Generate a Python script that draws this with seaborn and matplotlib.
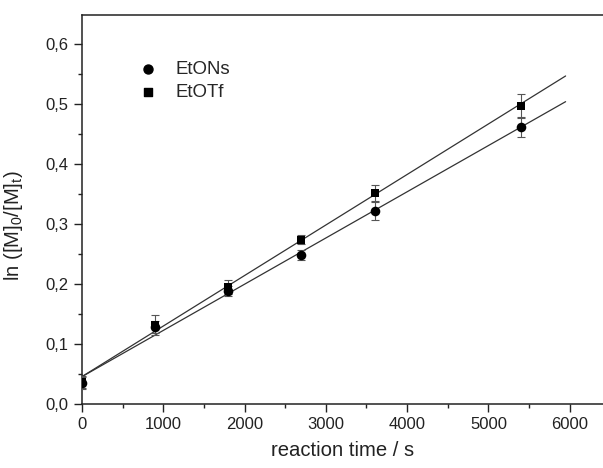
import numpy as np
import pandas as pd
import matplotlib
matplotlib.use("Agg")
import matplotlib.pyplot as plt
from matplotlib.ticker import FuncFormatter, MultipleLocator
import seaborn as sns

# Data
time_s = [0, 900, 1800, 2700, 3600, 5400]
etons = [0.035, 0.128, 0.188, 0.248, 0.322, 0.461]
etons_err = [0.010, 0.010, 0.008, 0.008, 0.015, 0.017]
etotf = [0.037, 0.132, 0.195, 0.274, 0.351, 0.497]
etotf_err = [0.010, 0.017, 0.012, 0.007, 0.013, 0.020]

df = pd.DataFrame({
    "time": time_s * 2,
    "value": etons + etotf,
    "err": etons_err + etotf_err,
    "series": ["EtONs"] * 6 + ["EtOTf"] * 6,
})

sns.set_style("ticks")
plt.rcParams["font.family"] = ["Liberation Sans", "DejaVu Sans"]
plt.rcParams["mathtext.fontset"] = "custom"
plt.rcParams["mathtext.rm"] = "Liberation Sans"
plt.rcParams["mathtext.it"] = "Liberation Sans"

fig = plt.figure(figsize=(6.03, 4.68), dpi=100)
ax = fig.add_axes([82 / 603, 64 / 468, 521 / 603, 389 / 468])

# linear fits
fit_x = np.linspace(0, 5950, 50)
for name in ["EtONs", "EtOTf"]:
    sub = df[df.series == name]
    k, b = np.polyfit(sub.time, sub.value, 1)
    sns.lineplot(x=fit_x, y=k * fit_x + b, ax=ax, color="#333333", lw=0.9, zorder=2)

# error bars
for name in ["EtONs", "EtOTf"]:
    sub = df[df.series == name]
    ax.errorbar(sub.time, sub.value, yerr=sub.err, fmt="none", ecolor="#555555",
                elinewidth=0.8, capsize=3, capthick=0.8, zorder=3)

sns.scatterplot(data=df[df.series == "EtONs"], x="time", y="value", marker="o",
                color="black", s=48, linewidth=0, ax=ax, zorder=4, legend=False)
sns.scatterplot(data=df[df.series == "EtOTf"], x="time", y="value", marker="s",
                color="black", s=38, linewidth=0, ax=ax, zorder=5, legend=False)

# legend
h1 = ax.scatter([], [], marker="o", color="black", s=42)
h2 = ax.scatter([], [], marker="s", color="black", s=32)
ax.legend([h1, h2], ["EtONs", "EtOTf"], loc="upper left", bbox_to_anchor=(0.109, 0.882),
          frameon=False, fontsize=13.4, handlelength=1.0, handletextpad=0.95,
          labelspacing=0.32, borderpad=0, borderaxespad=0)

ax.set_xlim(0, 6410)
ax.set_ylim(0, 0.648)
ax.xaxis.set_major_locator(MultipleLocator(1000))
ax.xaxis.set_minor_locator(MultipleLocator(500))
ax.yaxis.set_major_locator(MultipleLocator(0.1))
ax.yaxis.set_minor_locator(MultipleLocator(0.05))
ax.yaxis.set_major_formatter(FuncFormatter(lambda v, p: f"{v:.1f}".replace(".", ",")))
ax.tick_params(which="major", length=6, width=1, labelsize=12, color="#222222", labelcolor="#222222")
ax.tick_params(which="minor", length=3, width=1, color="#222222")

ax.spines["right"].set_visible(False)
for s in ["left", "bottom", "top"]:
    ax.spines[s].set_linewidth(1.1)
    ax.spines[s].set_color("#222222")

ax.set_xlabel("reaction time / s", fontsize=14.6, color="#222222", labelpad=6)
ax.set_ylabel(r"ln ([M]$_0$/[M]$_t$)", fontsize=14.6, color="#222222")
ax.yaxis.set_label_coords(-0.109, 0.458)

fig.savefig("out.png", dpi=100)
